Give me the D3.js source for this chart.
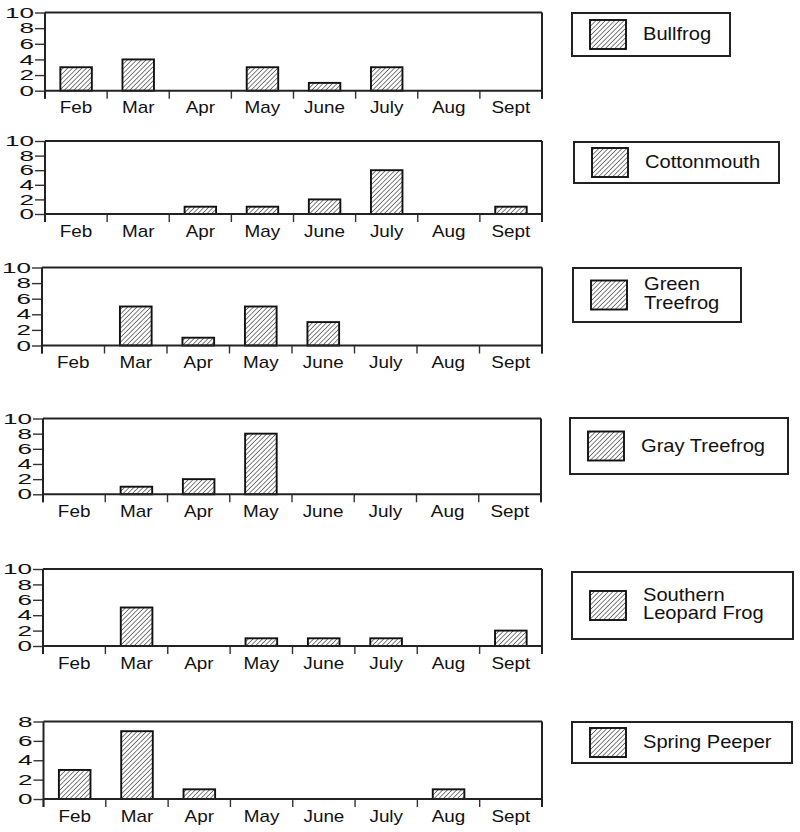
<!DOCTYPE html>
<html>
<head>
<meta charset="utf-8">
<script src="https://cdn.jsdelivr.net/npm/d3@7"></script>
<style>
  body { margin: 0; background: #fff; }
  text { font-family: "Liberation Sans", Arial, Helvetica, sans-serif; fill: #111; }
</style>
</head>
<body>
<script>
var months = ["Feb", "Mar", "Apr", "May", "June", "July", "Aug", "Sept"];

var bullfrog      = [3, 4, 0, 3, 1, 3, 0, 0];
var cottonmouth   = [0, 0, 1, 1, 2, 6, 0, 1];
var greenTreefrog = [0, 5, 1, 5, 3, 0, 0, 0];
var grayTreefrog  = [0, 1, 2, 8, 0, 0, 0, 0];
var leopardFrog   = [0, 5, 0, 1, 1, 1, 0, 2];
var springPeeper  = [3, 7, 1, 0, 0, 0, 1, 0];

var ticksTen = [0, 2, 4, 6, 8, 10];
var ticksEight = [0, 2, 4, 6, 8];

var panels = [
  {name: ["Bullfrog"], values: bullfrog, max: 10, ticks: ticksTen},
  {name: ["Cottonmouth"], values: cottonmouth, max: 10, ticks: ticksTen},
  {name: ["Green", "Treefrog"], values: greenTreefrog, max: 10, ticks: ticksTen},
  {name: ["Gray Treefrog"], values: grayTreefrog, max: 10, ticks: ticksTen},
  {name: ["Southern", "Leopard Frog"], values: leopardFrog, max: 10, ticks: ticksTen},
  {name: ["Spring Peeper"], values: springPeeper, max: 8, ticks: ticksEight}
];

// where each little chart sits on the page
var plotBoxes = [
  {left: 45, right: 542, top: 12.5, zero: 90.7},
  {left: 45, right: 542, top: 141, zero: 214},
  {left: 42, right: 542, top: 267.5, zero: 345.5},
  {left: 43, right: 541, top: 418.5, zero: 494.3},
  {left: 43, right: 542, top: 569, zero: 646},
  {left: 43.5, right: 542, top: 721.5, zero: 799}
];
var legendBoxes = [
  {x: 572, y: 13, w: 158, h: 43},
  {x: 574, y: 142, w: 205, h: 41},
  {x: 573, y: 268, w: 168, h: 54},
  {x: 570, y: 418, w: 218, h: 56},
  {x: 572, y: 572, w: 221, h: 67},
  {x: 572, y: 722, w: 220, h: 41}
];

var svg = d3.select("body").append("svg")
    .attr("width", 800)
    .attr("height", 832);

var pat = svg.append("defs").append("pattern")
    .attr("id", "hatch")
    .attr("patternUnits", "userSpaceOnUse")
    .attr("width", 3.3)
    .attr("height", 3.3)
    .attr("patternTransform", "rotate(45)");
pat.append("rect").attr("width", 3.3).attr("height", 3.3).attr("fill", "#fff");
pat.append("line")
    .attr("x1", 0).attr("y1", 0).attr("x2", 0).attr("y2", 3.3)
    .attr("stroke", "#2a2a2a").attr("stroke-width", 1.2);

panels.forEach(function(p, i) {
  var b = plotBoxes[i];
  var g = svg.append("g");

  var x = d3.scaleBand().domain(months).range([b.left, b.right]);
  var y = d3.scaleLinear().domain([0, p.max]).range([b.zero, b.top]);

  var rows = months.map(function(m, j) { return {month: m, value: p.values[j]}; })
      .filter(function(d) { return d.value > 0; });

  g.selectAll(".bar")
    .data(rows)
    .enter().append("rect")
      .attr("class", "bar")
      .attr("x", function(d) { return x(d.month) + x.bandwidth() * 0.247; })
      .attr("width", x.bandwidth() * 0.507)
      .attr("y", function(d) { return y(d.value); })
      .attr("height", function(d) { return y(0) - y(d.value); })
      .attr("fill", "url(#hatch)")
      .attr("stroke", "#111")
      .attr("stroke-width", 1.9);

  var yAxis = g.append("g")
      .attr("transform", "translate(" + b.left + ",0)")
      .call(d3.axisLeft(y).tickValues(p.ticks).tickSize(10).tickPadding(1).tickFormat(d3.format("d")));
  yAxis.select(".domain").remove();
  yAxis.selectAll("line").attr("stroke", "#333").attr("stroke-width", 1.4);
  yAxis.selectAll("text")
      .attr("font-size", 14.5)
      .attr("fill", "#111")
      .attr("x", -11 / 1.8)
      .attr("transform", "scale(1.8,1)");

  // tick marks between the months
  g.selectAll(".mtick")
    .data(d3.range(months.length + 1))
    .enter().append("line")
      .attr("class", "mtick")
      .attr("x1", function(k) { return b.left + k * x.step(); })
      .attr("x2", function(k) { return b.left + k * x.step(); })
      .attr("y1", b.zero)
      .attr("y2", b.zero + 8)
      .attr("stroke", "#333")
      .attr("stroke-width", 1.4);

  g.selectAll(".month")
    .data(months)
    .enter().append("text")
      .attr("class", "month")
      .attr("text-anchor", "middle")
      .attr("font-size", 16)
      .attr("transform", function(d) {
        return "translate(" + (x(d) + x.bandwidth() / 2) + "," + (b.zero + 22.5) + ") scale(1.18,1)";
      })
      .text(function(d) { return d; });

  // frame
  var frame = g.append("g").attr("stroke", "#222").attr("stroke-width", 2).attr("fill", "none");
  frame.append("line").attr("x1", b.left).attr("x2", b.right).attr("y1", b.top).attr("y2", b.top);
  frame.append("line").attr("x1", b.left).attr("x2", b.right).attr("y1", b.zero).attr("y2", b.zero);
  frame.append("line").attr("x1", b.left).attr("x2", b.left).attr("y1", b.top).attr("y2", b.zero + 8);
  frame.append("line").attr("x1", b.right).attr("x2", b.right).attr("y1", b.top).attr("y2", b.zero + 8);

  // legend
  var lb = legendBoxes[i];
  var cy = lb.y + lb.h / 2;
  var lg = svg.append("g");
  lg.append("rect")
      .attr("x", lb.x).attr("y", lb.y).attr("width", lb.w).attr("height", lb.h)
      .attr("fill", "#fff").attr("stroke", "#222").attr("stroke-width", 2);
  lg.append("rect")
      .attr("x", lb.x + 18).attr("y", cy - 14.5).attr("width", 36).attr("height", 29)
      .attr("fill", "url(#hatch)").attr("stroke", "#111").attr("stroke-width", 1.9);
  var firstLine = p.name.length > 1 ? cy - 5 : cy + 5.5;
  var t = lg.append("text")
      .attr("font-size", 17.5)
      .attr("transform", "translate(" + (lb.x + 71) + "," + firstLine + ") scale(1.15,1)");
  t.selectAll("tspan")
    .data(p.name)
    .enter().append("tspan")
      .attr("x", 0)
      .attr("dy", function(d, k) { return k === 0 ? 0 : 19; })
      .text(function(d) { return d; });
});
</script>
</body>
</html>
